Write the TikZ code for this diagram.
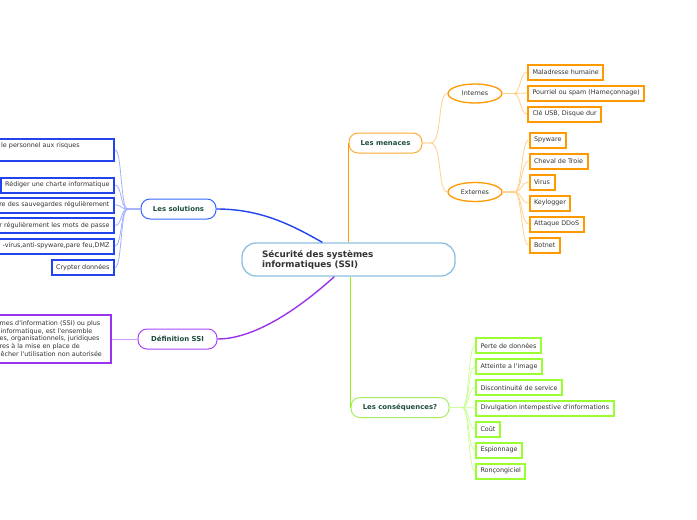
\documentclass[tikz,border=0pt]{standalone}
\usepackage{fontspec}
\setmainfont{DejaVu Sans}
\usetikzlibrary{shapes.geometric,calc}
\definecolor{txt}{HTML}{333333}
\definecolor{lab}{HTML}{1E4D3C}
\definecolor{orA}{HTML}{FF9900}
\definecolor{orM}{HTML}{FFAA33}
\definecolor{orL}{HTML}{FFD08A}
\definecolor{grA}{HTML}{99FF33}
\definecolor{grM}{HTML}{A6EE66}
\definecolor{grL}{HTML}{CCFF99}
\definecolor{grC}{HTML}{99EE22}
\definecolor{blA}{HTML}{2244EE}
\definecolor{blM}{HTML}{3366FF}
\definecolor{blL}{HTML}{A0B0FF}
\definecolor{puA}{HTML}{9933EE}
\definecolor{puM}{HTML}{AA44FF}
\definecolor{puL}{HTML}{CC99FF}
\definecolor{cenc}{HTML}{8CBFE0}
\newcommand{\q}{\textquotesingle}
\begin{document}
\begin{tikzpicture}[x=1pt,y=-1pt,
  leaf/.style={draw, line width=2pt, fill=white, rectangle, inner xsep=4.5pt, inner ysep=0pt,
    minimum height=15pt, text=txt, font=\fontsize{6.4}{7.6}\selectfont},
  orleaf/.style={leaf, draw=orA, anchor=west},
  grleaf/.style={leaf, draw=grA, anchor=west},
  blleaf/.style={leaf, draw=blA, anchor=east},
  puleaf/.style={leaf, draw=puA},
  cuttext/.style={text width=120pt, align=right},
  plain/.style={inner sep=0pt, text=txt, font=\fontsize{6.4}{7.6}\selectfont},
  branch/.style={draw, rounded corners=9pt, line width=1pt, fill=white, minimum height=20pt,
    inner sep=0pt, text=lab, font=\bfseries\fontsize{6.9}{8}\selectfont},
  oval/.style={ellipse, draw=orA, line width=1.3pt, fill=white, minimum width=54pt, minimum height=19pt,
    inner sep=0pt, text=txt, font=\fontsize{6.4}{7.6}\selectfont},
  central/.style={draw=cenc, line width=1.3pt, rounded corners=14pt, fill=white, text width=173pt,
    inner xsep=20pt, inner ysep=0pt, minimum height=33pt, align=left, text=txt,
    font=\bfseries\fontsize{8.8}{10}\selectfont},
  orfan/.style={draw=orL, line width=0.8pt},
  grfan/.style={draw=grL, line width=0.8pt},
  blfan/.style={draw=blL, line width=0.8pt},
  pufan/.style={draw=puL, line width=0.8pt},
  mainline/.style={line width=1.4pt}
]
\useasboundingbox[fill=white] (0,0) rectangle (697,520);

% central
\node[central] (cen) at (348.5,259.5) {Sécurité des systèmes\\informatiques (SSI)};

% branches
\node[branch, draw=orM, minimum width=73pt] (men) at (385.5,143) {Les menaces};
\node[branch, draw=grM, minimum width=98pt] (cons) at (400,407.5) {Les conséquences?};
\node[branch, draw=blM, minimum width=75pt] (sol) at (178.5,209) {Les solutions};
\node[branch, draw=puM, minimum width=79pt] (def) at (177.5,339) {Définition SSI};

% menaces sub
\node[oval] (int) at (475,93.5) {Internes};
\node[oval] (ext) at (475,192) {Externes};

\node[orleaf] (i1) at (527,72) {Maladresse humaine};
\node[orleaf] (i2) at (527,93) {Pourriel ou spam (Hameçonnage)};
\node[orleaf] (i3) at (527,114) {Clé USB, Disque dur};

\node[orleaf] (e1) at (528.5,140) {Spyware};
\node[orleaf] (e2) at (528.5,161) {Cheval de Troie};
\node[orleaf] (e3) at (528.5,182) {Virus};
\node[orleaf] (e4) at (528.5,203) {Keylogger};
\node[orleaf] (e5) at (528.5,224) {Attaque DDoS};
\node[orleaf] (e6) at (528.5,245) {Botnet};

% consequences
\node[grleaf] (c1) at (475,345.5) {Perte de données};
\node[grleaf] (c2) at (475,366.5) {Atteinte a l\q image};
\node[grleaf] (c3) at (475,387.5) {Discontinuité de service};
\node[grleaf] (c4) at (475,408) {Divulgation intempestive d\q informations};
\node[grleaf] (c5) at (475,429) {Coût};
\node[grleaf] (c6) at (475,450) {Espionnage};
\node[grleaf] (c7) at (475,471) {Ronçongiciel};

% solutions
\node[blleaf, minimum width=130pt, minimum height=22pt] (s1) at (115,150) {};
\node[plain, anchor=west] (s1t) at (1,146) {le personnel aux risques};
\node[blleaf] (s2) at (115,185) {Rédiger une charte informatique};
\node[blleaf, cuttext] (s3) at (115,205) {re des sauvegardes régulièrement};
\node[blleaf, cuttext] (s4) at (115,225.5) {r régulièrement les mots de passe};
\node[blleaf, cuttext] (s5) at (115,246) {-virus,anti-spyware,pare feu,DMZ};
\node[blleaf] (s6) at (115,267.5) {Crypter données};

% definition
\node[puleaf, minimum width=130pt, minimum height=48pt, anchor=east] (d1) at (112,339) {};
\node[plain, anchor=west] (d1a) at (-0.5,324) {mes d\q information (SSI) ou plus};
\node[plain, anchor=west] (d1b) at (0.5,331.5) {informatique, est l\q ensemble};
\node[plain, anchor=west] (d1c) at (-0.5,339) {es, organisationnels, juridiques};
\node[plain, anchor=west] (d1d) at (-0.5,346.5) {res à la mise en place de};
\node[plain, anchor=west] (d1e) at (0.5,354) {êcher l\q utilisation non autorisée};

% central connectors
\draw[mainline, draw=orA] (men.west |- cen.north) -- (men.west);
\draw[mainline, draw=grC] (cons.west |- cen.south) -- (cons.west);
\draw[mainline, draw=blA] (sol.east) .. controls +(45,0) and +(-30,-17) .. ($(cen.north west)+(81,0)$);
\draw[mainline, draw=puA] (def.east) .. controls +(45,0) and +(-20,18) .. ($(cen.south west)+(93,0)$);

% menaces fans
\foreach \n in {int,ext}
  \draw[orfan] (men.east) -- ++(8,0) .. controls +(12,0) and +(-10,0) .. (\n.west);
\foreach \n in {i1,i2,i3}
  \draw[orfan] (int.east) -- ++(11,0) .. controls +(7,0) and +(-7,0) .. (\n.west);
\foreach \n in {e1,e2,e3,e4,e5,e6}
  \draw[orfan] (ext.east) -- ++(12,0) .. controls +(7,0) and +(-7,0) .. (\n.west);

% consequences fan
\foreach \n in {c1,c2,c3,c4,c5,c6,c7}
  \draw[grfan] (cons.east) -- ++(13,0) .. controls +(7,0) and +(-7,0) .. (\n.west);

% solutions fan
\foreach \n in {s1,s2,s3,s4,s5,s6}
  \draw[blfan] (sol.west) -- ++(-13,0) .. controls +(-7,0) and +(7,0) .. (\n.east);

% definition fan
\draw[pufan] (def.west) -- (d1.east);
\end{tikzpicture}
\end{document}
